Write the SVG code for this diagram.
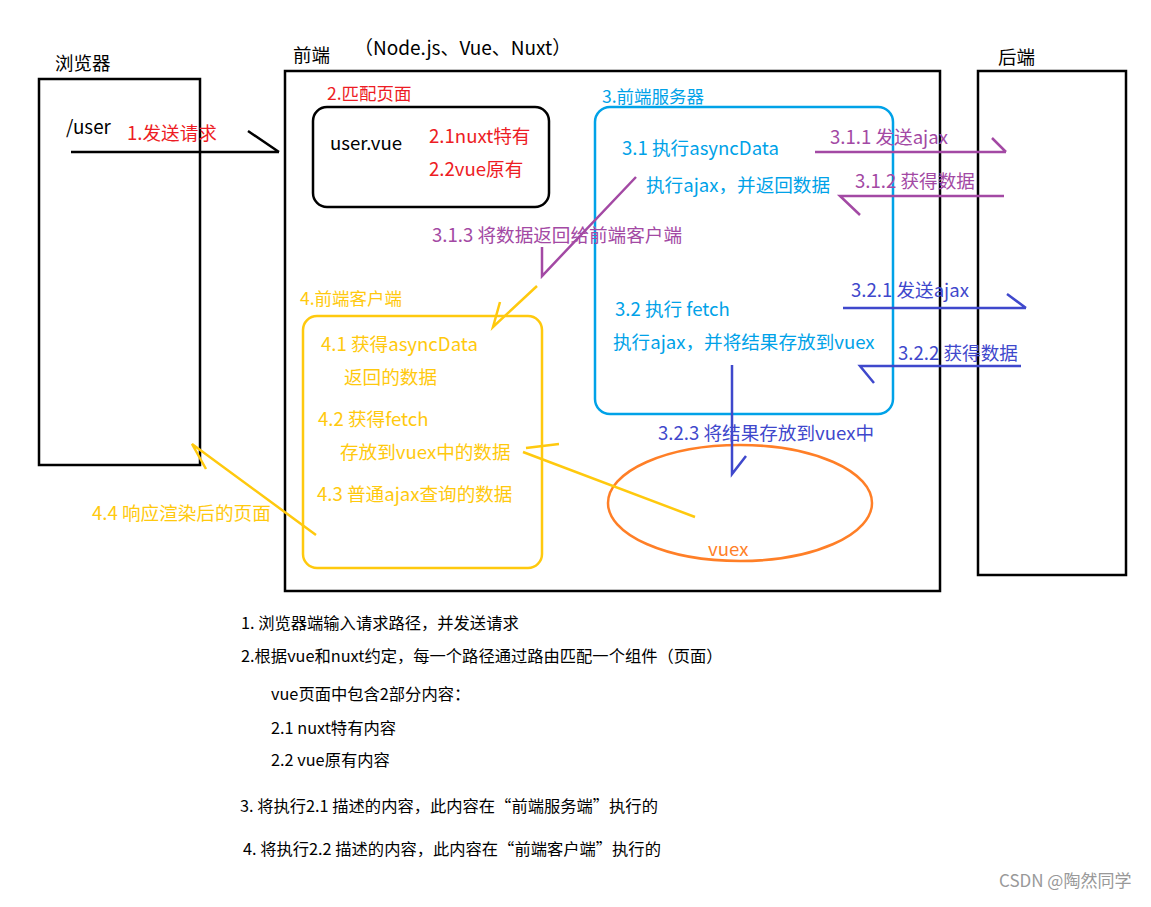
<svg xmlns="http://www.w3.org/2000/svg" width="1151" height="907" viewBox="0 0 1151 907">
<style>
text{font-family:"Noto Sans CJK SC","Noto Sans",sans-serif;font-size:18.6px}
.k{fill:#000}
.r{fill:#ed1c24}
.b{fill:#00a2e8}
.p{fill:#a349a4}
.i{fill:#3f48cc}
.y{fill:#ffc90e}
.o{fill:#ff7f27}
.t{font-size:16.3px;fill:#000}
.box{fill:none;stroke:#000;stroke-width:2.5}
.lp{fill:none;stroke:#a349a4;stroke-width:2.5}
.li{fill:none;stroke:#3f48cc;stroke-width:2.5}
.ly{fill:none;stroke:#ffc90e;stroke-width:2.5}
.lk{fill:none;stroke:#000;stroke-width:2.5}
</style>
<rect width="1151" height="907" fill="#fff"/>

<g id="browser">
<text class="k" x="55" y="70" style="font-size:18.5px">浏览器</text>
<rect class="box" x="39" y="79" width="161" height="386"/>
<text class="k" x="66" y="134" style="font-size:18.8px">/user</text>
</g>

<g id="frontend">
<text class="k" x="293" y="62" style="font-size:18.5px">前端</text>
<text class="k" x="354" y="55" style="font-size:19px">（Node.js、Vue、Nuxt）</text>
<rect class="box" x="285" y="71" width="655" height="520"/>
</g>

<g id="page">
<text class="r" x="327" y="100" style="font-size:17.5px">2.匹配页面</text>
<rect class="box" x="313" y="107" width="236" height="100" rx="14"/>
<text class="k" x="330" y="150">user.vue</text>
<text class="r" x="429" y="143">2.1nuxt特有</text>
<text class="r" x="429" y="176">2.2vue原有</text>
</g>

<g id="server">
<text class="b" x="602" y="103" style="font-size:17.5px">3.前端服务器</text>
<rect x="595" y="107" width="298" height="307" rx="15" fill="none" stroke="#00a2e8" stroke-width="2.5"/>
<text class="b" x="622" y="155">3.1 执行asyncData</text>
<text class="b" x="646" y="192">执行ajax，并返回数据</text>
<text class="b" x="615" y="316">3.2 执行 fetch</text>
<text class="b" x="613" y="349">执行ajax，并将结果存放到vuex</text>
</g>

<g id="client">
<text class="y" x="300" y="305" style="font-size:17.5px">4.前端客户端</text>
<rect x="303" y="316" width="239" height="252" rx="14" fill="none" stroke="#ffc90e" stroke-width="2.5"/>
<text class="y" x="321" y="351">4.1 获得asyncData</text>
<text class="y" x="344" y="384">返回的数据</text>
<text class="y" x="318" y="426">4.2 获得fetch</text>
<text class="y" x="340" y="459">存放到vuex中的数据</text>
<text class="y" x="317" y="501">4.3 普通ajax查询的数据</text>
</g>

<g id="vuex">
<ellipse cx="740" cy="503" rx="132" ry="58" fill="none" stroke="#ff7f27" stroke-width="2.5"/>
<text class="o" x="708" y="556">vuex</text>
</g>

<g id="backend">
<text class="k" x="998" y="64" style="font-size:18.5px">后端</text>
<rect class="box" x="978" y="71" width="148" height="504"/>
</g>

<g id="connectors">
<path class="lk" d="M71 152H279M248 131L279 152"/>
<text class="r" x="127" y="140">1.发送请求</text>

<path class="lp" d="M815 152H1006M992 138L1006 152"/>
<text class="p" x="830" y="144">3.1.1 发送ajax</text>
<path class="lp" d="M1004 196H840L860 215"/>
<text class="p" x="855" y="188">3.1.2 获得数据</text>
<path class="lp" d="M636 177L542 276V247"/>
<text class="p" x="432" y="242">3.1.3 将数据返回给前端客户端</text>
<path class="ly" d="M537 286L493 327L500 302"/>

<path class="li" d="M843 308H1026M1007 294L1026 308"/>
<text class="i" x="851" y="297">3.2.1 发送ajax</text>
<path class="li" d="M1021 366H860L874 383"/>
<text class="i" x="898" y="360">3.2.2 获得数据</text>
<path class="li" d="M732 365V474L746 456"/>
<text class="i" x="658" y="440">3.2.3 将结果存放到vuex中</text>

<path class="ly" d="M695 517L523 452M526 448L559 444"/>
<path class="ly" d="M316 535L192 444L206 469"/>
<text class="y" x="92" y="520">4.4 响应渲染后的页面</text>
</g>

<g id="notes">
<text class="t" x="241" y="629">1. 浏览器端输入请求路径，并发送请求</text>
<text class="t" x="241" y="662">2.根据vue和nuxt约定，每一个路径通过路由匹配一个组件（页面）</text>
<text class="t" x="271" y="700">vue页面中包含2部分内容：</text>
<text class="t" x="271" y="734">2.1 nuxt特有内容</text>
<text class="t" x="271" y="766">2.2 vue原有内容</text>
<text class="t" x="240" y="812">3. 将执行2.1 描述的内容，此内容在“前端服务端”执行的</text>
<text class="t" x="243" y="855">4. 将执行2.2 描述的内容，此内容在“前端客户端”执行的</text>
</g>

<text x="999" y="887" style="font-size:17px;fill:#999">CSDN @陶然同学</text>
</svg>
